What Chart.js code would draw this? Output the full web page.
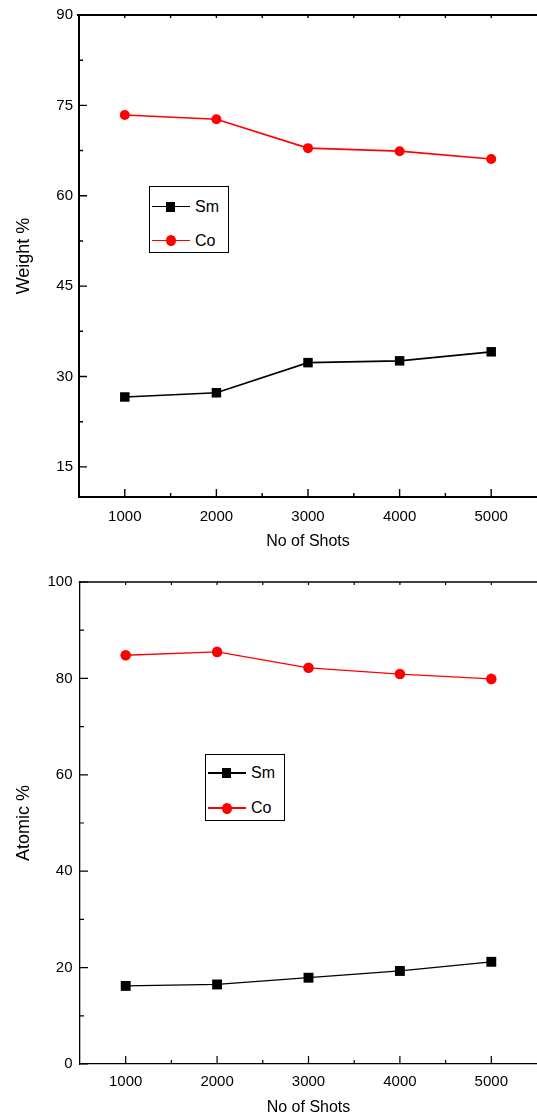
<!DOCTYPE html>
<html>
<head>
<meta charset="utf-8">
<script src="https://cdn.jsdelivr.net/npm/chart.js@4.4.0/dist/chart.umd.min.js"></script>
<style>
  html, body { margin: 0; padding: 0; background: #fff; overflow: hidden; }
  .panel { position: absolute; left: 0; }
  .legend { position: absolute; background: #fff; border: 1.5px solid #000; box-sizing: border-box;
            font-family: "Liberation Sans", Arial, sans-serif; font-size: 16px; color: #000; }
  .row { position: absolute; left: 0; width: 100%; height: 0; }
  .row .ln { position: absolute; left: 2px; width: 38px; top: -0.7px; height: 1.4px; }
  .row .mk { position: absolute; }
  .row .tx { position: absolute; left: 45px; top: -9px; line-height: 18px; }
</style>
</head>
<body>
<div class="panel" style="top:0"><canvas id="weight" width="537" height="560"></canvas></div>
<div class="panel" style="top:560px"><canvas id="atomic" width="537" height="558"></canvas></div>
<div class="legend" id="legWeight" style="left:149px;top:186px;width:80px;height:67px"></div>
<div class="legend" id="legAtomic" style="left:205px;top:754px;width:80px;height:67px;border-width:1.2px"></div>
<script>
// shots on x
var shots = [1000, 2000, 3000, 4000, 5000];

// weight %
var weightSm = [26.6, 27.3, 32.3, 32.6, 34.1];
var weightCo = [73.4, 72.7, 67.9, 67.4, 66.1];

// atomic %
var atomicSm = [16.2, 16.5, 17.9, 19.3, 21.2];
var atomicCo = [84.8, 85.5, 82.2, 80.9, 79.9];

var seriesNames = ['Sm', 'Co'];
var seriesColors = ['#000000', '#ff0000'];

var xMajor = [1000, 2000, 3000, 4000, 5000];
var xMinor = [1500, 2500, 3500, 4500];
var weightMajor = [15, 30, 45, 60, 75, 90];
var weightMinor = [22.5, 37.5, 52.5, 67.5, 82.5];
var atomicMajor = [0, 20, 40, 60, 80, 100];
var atomicMinor = [10, 30, 50, 70, 90];

var FONT = '"Liberation Sans", Arial, sans-serif';

function pts(ys) {
  return shots.map(function (x, i) { return { x: x, y: ys[i] }; });
}

// ticks pointing inward + top frame line
var frameTicks = {
  id: 'frameTicks',
  afterDraw: function (chart, args, o) {
    var ctx = chart.ctx, a = chart.chartArea;
    var xs = chart.scales.x, ys = chart.scales.y;
    ctx.save();
    ctx.strokeStyle = '#000';
    ctx.lineWidth = o.frame;
    ctx.beginPath();
    ctx.moveTo(a.left - o.frame, a.top);
    ctx.lineTo(a.right + 2, a.top);
    ctx.stroke();
    ctx.lineWidth = o.tick;
    ctx.beginPath();
    xMajor.forEach(function (v) {
      var p = xs.getPixelForValue(v);
      ctx.moveTo(p, a.bottom); ctx.lineTo(p, a.bottom - 8);
      ctx.moveTo(p, a.top); ctx.lineTo(p, a.top + 3);
    });
    xMinor.forEach(function (v) {
      var p = xs.getPixelForValue(v);
      ctx.moveTo(p, a.bottom); ctx.lineTo(p, a.bottom - 4);
      ctx.moveTo(p, a.top); ctx.lineTo(p, a.top + 3);
    });
    o.yMajor.forEach(function (v) {
      var p = ys.getPixelForValue(v);
      ctx.moveTo(a.left, p); ctx.lineTo(a.left + 8, p);
    });
    o.yMinor.forEach(function (v) {
      var p = ys.getPixelForValue(v);
      ctx.moveTo(a.left, p); ctx.lineTo(a.left + 4, p);
    });
    ctx.stroke();
    ctx.restore();
  }
};

function makeChart(id, cfg) {
  return new Chart(document.getElementById(id), {
    type: 'scatter',
    data: {
      datasets: [
        { label: seriesNames[0], data: pts(cfg.sm), showLine: true,
          borderColor: seriesColors[0], backgroundColor: seriesColors[0],
          borderWidth: cfg.line, pointStyle: 'rect', pointRadius: cfg.rect,
          pointBorderWidth: 0, pointHoverRadius: cfg.rect },
        { label: seriesNames[1], data: pts(cfg.co), showLine: true,
          borderColor: seriesColors[1], backgroundColor: seriesColors[1],
          borderWidth: cfg.line, pointStyle: 'circle', pointRadius: cfg.circ,
          pointBorderWidth: 0, pointHoverRadius: cfg.circ }
      ]
    },
    options: {
      responsive: false,
      animation: false,
      devicePixelRatio: 1,
      layout: { autoPadding: false, padding: { top: cfg.top, left: 0, right: 0, bottom: 0 } },
      plugins: {
        legend: { display: false },
        tooltip: { enabled: false },
        frameTicks: { frame: cfg.frame, tick: cfg.tick, yMajor: cfg.yMajor, yMinor: cfg.yMinor }
      },
      scales: {
        x: {
          type: 'linear', min: 500, max: 5500,
          afterBuildTicks: function (s) { s.ticks = xMajor.map(function (v) { return { value: v }; }); },
          afterFit: function (s) { s.height = cfg.xh; },
          grid: { drawOnChartArea: false, drawTicks: false },
          border: { display: true, color: '#000', width: cfg.frame },
          ticks: { color: '#000', padding: cfg.xpad, font: { family: FONT, size: 15 },
                   maxRotation: 0, callback: function (v) { return String(v); } },
          title: { display: true, text: 'No of Shots', color: '#000',
                   font: { family: FONT, size: 16 }, padding: { top: 0, bottom: cfg.xtpad } }
        },
        y: {
          type: 'linear', min: cfg.ymin, max: cfg.ymax,
          afterBuildTicks: function (s) { s.ticks = cfg.yMajor.map(function (v) { return { value: v }; }); },
          afterFit: function (s) { s.width = cfg.yw; },
          grid: { drawOnChartArea: false, drawTicks: false },
          border: { display: true, color: '#000', width: cfg.frame },
          ticks: { color: '#000', padding: cfg.ypad, font: { family: FONT, size: 15 },
                   callback: function (v) { return String(v); } },
          title: { display: true, text: cfg.ytitle, color: '#000',
                   font: { family: FONT, size: 18 }, padding: { top: 13, bottom: 0 } }
        }
      }
    },
    plugins: [frameTicks]
  });
}

makeChart('weight', {
  sm: weightSm, co: weightCo, ymin: 10, ymax: 90, ytitle: 'Weight %',
  yMajor: weightMajor, yMinor: weightMinor,
  top: 15, xh: 63, yw: 79, xpad: 11, xtpad: 8.7, ypad: 6,
  line: 1.7, rect: 6.7, circ: 5, frame: 2, tick: 1.4
});

makeChart('atomic', {
  sm: atomicSm, co: atomicCo, ymin: 0, ymax: 100, ytitle: 'Atomic %',
  yMajor: atomicMajor, yMinor: atomicMinor,
  top: 22, xh: 54, yw: 80, xpad: 8.7, xtpad: 1, ypad: 7.5,
  line: 1.3, rect: 7, circ: 5.3, frame: 1.3, tick: 1.2
});

// legends as html boxes
function buildLegend(id, rows, lw) {
  var box = document.getElementById(id);
  seriesNames.forEach(function (name, i) {
    var r = document.createElement('div');
    r.className = 'row';
    r.style.top = rows[i] + 'px';
    var ln = document.createElement('div');
    ln.className = 'ln';
    ln.style.background = seriesColors[i];
    ln.style.height = lw + 'px';
    ln.style.top = (-lw / 2) + 'px';
    var mk = document.createElement('div');
    mk.className = 'mk';
    mk.style.background = seriesColors[i];
    if (i === 0) {
      mk.style.width = '9px'; mk.style.height = '10px';
      mk.style.left = '16px'; mk.style.top = '-5px';
    } else {
      mk.style.width = '10px'; mk.style.height = '11px';
      mk.style.left = '16px'; mk.style.top = '-5.5px';
      mk.style.borderRadius = '50%';
    }
    var tx = document.createElement('div');
    tx.className = 'tx';
    tx.textContent = name;
    r.appendChild(ln); r.appendChild(mk); r.appendChild(tx);
    box.appendChild(r);
  });
}
buildLegend('legWeight', [19.5, 53.5], 1.5);
buildLegend('legAtomic', [18, 53], 1.2);
</script>
</body>
</html>
